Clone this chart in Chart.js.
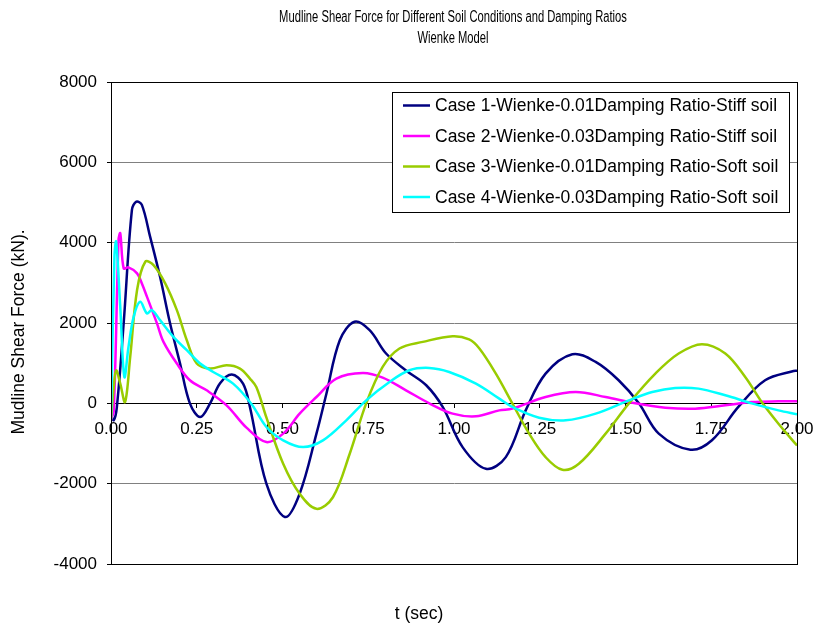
<!DOCTYPE html>
<html>
<head>
<meta charset="utf-8">
<title>Mudline Shear Force - Wienke Model</title>
<script src="https://cdn.jsdelivr.net/npm/chart.js@4.4.1/dist/chart.umd.min.js"></script>
<style>
  html, body { margin: 0; padding: 0; background: #fff; }
  #wrap { width: 815px; height: 627px; }
</style>
</head>
<body>
<div id="wrap"><canvas id="shearChart" width="815" height="627"></canvas></div>
<script>
// data (t in sec, force in kN)
const seriesLabels = [
    'Case 1-Wienke-0.01Damping Ratio-Stiff soil',
    'Case 2-Wienke-0.03Damping Ratio-Stiff soil',
    'Case 3-Wienke-0.01Damping Ratio-Soft soil',
    'Case 4-Wienke-0.03Damping Ratio-Soft soil'
];

const case1T = [0, 0.008, 0.017, 0.037, 0.061, 0.074, 0.09, 0.114, 0.143, 0.172, 0.201, 0.23, 0.26, 0.289, 0.318, 0.352, 0.385, 0.405, 0.453, 0.507, 0.55, 0.599, 0.628, 0.667, 0.71, 0.754, 0.802, 0.86, 0.919, 0.967, 1.025, 1.093, 1.151, 1.209, 1.267, 1.345, 1.413, 1.48, 1.539, 1.597, 1.689, 1.752, 1.829, 1.907, 1.99, 2.0];
const case1V = [-300, -420, -100, 2000, 4815, 5022, 4940, 4150, 3150, 2000, 1000, 0, -340, 0, 500, 715, 490, -90, -2000, -2830, -2250, -755, 240, 1570, 2030, 1820, 1240, 820, 450, -90, -1090, -1630, -1340, -175, 740, 1222, 1030, 574, 0, -755, -1155, -920, -90, 575, 805, 810];

const case2T = [0, 0.008, 0.022, 0.027, 0.037, 0.051, 0.076, 0.09, 0.105, 0.134, 0.153, 0.192, 0.23, 0.279, 0.337, 0.395, 0.453, 0.502, 0.55, 0.599, 0.657, 0.734, 0.792, 0.86, 0.928, 0.996, 1.064, 1.132, 1.17, 1.267, 1.355, 1.442, 1.529, 1.616, 1.703, 1.791, 1.868, 1.946, 2.0];
const case2V = [-400, -200, 4070, 4234, 3360, 3385, 3236, 2986, 2650, 1990, 1530, 990, 574, 324, -50, -606, -965, -755, -257, 157, 616, 756, 640, 324, 0, -257, -324, -175, -132, 157, 282, 157, 0, -107, -132, -50, 33, 50, 50];

const case3T = [0, 0.008, 0.015, 0.027, 0.041, 0.056, 0.076, 0.1, 0.124, 0.158, 0.192, 0.221, 0.25, 0.289, 0.337, 0.376, 0.405, 0.424, 0.453, 0.502, 0.55, 0.599, 0.647, 0.696, 0.744, 0.792, 0.841, 0.909, 0.996, 1.044, 1.074, 1.122, 1.17, 1.219, 1.267, 1.316, 1.364, 1.442, 1.51, 1.587, 1.655, 1.723, 1.791, 1.849, 1.897, 1.946, 2.0];
const case3V = [-400, 400, 823, 490, 33, 1155, 2820, 3525, 3443, 2987, 2320, 1572, 990, 866, 948, 866, 616, 400, -350, -1505, -2253, -2627, -2338, -1255, 0, 906, 1365, 1530, 1672, 1590, 1365, 740, 0, -755, -1340, -1655, -1505, -755, 0, 740, 1240, 1472, 1240, 656, 33, -507, -1050];

const case4T = [0, 0.01, 0.015, 0.027, 0.039, 0.051, 0.066, 0.085, 0.105, 0.119, 0.143, 0.182, 0.221, 0.26, 0.298, 0.356, 0.41, 0.453, 0.502, 0.56, 0.618, 0.686, 0.744, 0.812, 0.87, 0.928, 0.986, 1.064, 1.132, 1.17, 1.248, 1.326, 1.413, 1.51, 1.578, 1.645, 1.713, 1.791, 1.868, 1.946, 2.0];
const case4V = [-400, 3650, 4025, 2400, 656, 1405, 2153, 2528, 2238, 2320, 2071, 1654, 1322, 990, 781, 491, -20, -590, -923, -1090, -923, -424, 75, 532, 823, 881, 781, 491, 117, -90, -357, -424, -257, 75, 282, 382, 366, 200, 0, -175, -270];

const xTickStep = 0.25;
const yTicks = [-4000, -2000, 0, 2000, 4000, 6000, 8000];
const titleLines = ['Mudline Shear Force for Different Soil Conditions and Damping Ratios', 'Wienke Model'];
const yTitle = 'Mudline Shear Force (kN).';
const xTitle = 't (sec)';

const seriesColors = ['#000080', '#FF00FF', '#99CC00', '#00FFFF'];

function toPoints(ts, vs) {
    return ts.map((t, i) => ({ x: t, y: vs[i] }));
}

const allT = [case1T, case2T, case3T, case4T];
const allV = [case1V, case2V, case3V, case4V];

Chart.defaults.font.family = '"Liberation Sans", Arial, sans-serif';
Chart.defaults.font.size = 17;
Chart.defaults.color = '#000';

// titles, axis titles, frame and legend drawn by hand so they sit where Excel put them
const decorations = {
    id: 'decorations',
    afterDatasetsDraw(chart) {
        const ctx = chart.ctx;
        const a = chart.chartArea;
        ctx.save();

        // plot frame
        ctx.strokeStyle = '#000';
        ctx.lineWidth = 1;
        ctx.strokeRect(Math.round(a.left) + 0.5, Math.round(a.top) + 0.5, Math.round(a.right - a.left), Math.round(a.bottom - a.top));

        ctx.fillStyle = '#000';
        ctx.textAlign = 'center';
        ctx.textBaseline = 'middle';

        // title, condensed like the original narrow face
        ctx.font = '16px "Liberation Sans", Arial, sans-serif';
        [18, 39].forEach((y, i) => {
            ctx.save();
            ctx.translate(453, y);
            ctx.scale(0.7, 1);
            ctx.fillText(titleLines[i], 0, 0);
            ctx.restore();
        });

        // axis titles
        ctx.font = '17.5px "Liberation Sans", Arial, sans-serif';
        ctx.fillText(xTitle, 419, 614);
        ctx.save();
        ctx.translate(19, 332);
        ctx.rotate(-Math.PI / 2);
        ctx.fillText(yTitle, 0, 0);
        ctx.restore();

        // legend
        const lx = 392, ly = 92, lw = 397, lh = 120;
        ctx.fillStyle = '#fff';
        ctx.fillRect(lx, ly, lw, lh);
        ctx.strokeStyle = '#000';
        ctx.strokeRect(lx + 0.5, ly + 0.5, lw, lh);
        ctx.textAlign = 'left';
        chart.data.datasets.forEach((ds, i) => {
            const y = ly + 13.5 + i * 30.5;
            ctx.strokeStyle = ds.borderColor;
            ctx.lineWidth = 2.5;
            ctx.beginPath();
            ctx.moveTo(403, y);
            ctx.lineTo(430, y);
            ctx.stroke();
            ctx.fillStyle = '#000';
            ctx.fillText(ds.label, 435, y + 1);
        });
        ctx.restore();
    }
};

const ctx = document.getElementById('shearChart').getContext('2d');
new Chart(ctx, {
    type: 'line',
    data: {
        datasets: seriesLabels.map((label, i) => ({
            label: label,
            data: toPoints(allT[i], allV[i]),
            borderColor: seriesColors[i],
            backgroundColor: seriesColors[i],
            borderWidth: 2.5,
            pointRadius: 0,
            fill: false,
            tension: 0.35,
            order: seriesLabels.length - i
        }))
    },
    options: {
        responsive: false,
        animation: false,
        layout: { padding: { top: 82, right: 18, bottom: 63, left: 0 } },
        plugins: {
            legend: { display: false },
            title: { display: false },
            tooltip: { enabled: false }
        },
        scales: {
            x: {
                type: 'linear',
                position: { y: 0 },
                min: 0,
                max: 2,
                afterFit: scale => { scale.paddingLeft = 0; scale.paddingRight = 0; },
                ticks: {
                    stepSize: xTickStep,
                    autoSkip: false,
                    maxRotation: 0,
                    padding: 12,
                    callback: v => v.toFixed(2)
                },
                grid: { drawOnChartArea: false, drawTicks: true, tickLength: 4, color: '#000' },
                border: { display: true, color: '#000', width: 1 }
            },
            y: {
                min: -4000,
                max: 8000,
                afterBuildTicks: scale => { scale.ticks = yTicks.map(v => ({ value: v })); },
                afterFit: scale => { scale.width = 111; },
                ticks: { padding: 10, callback: v => String(v) },
                grid: { color: '#808080', tickColor: '#000', tickLength: 4, lineWidth: 1 },
                border: { display: true, color: '#000', width: 1 }
            }
        }
    },
    plugins: [decorations]
});
</script>
</body>
</html>
